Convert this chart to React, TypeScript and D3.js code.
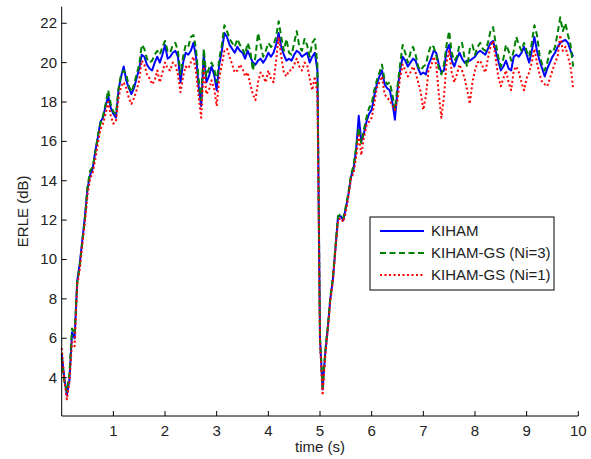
import React from "react";
import * as d3 from "d3";

const W = 591;
const H = 459;

const T_STEP = 0.05;
const xTicks = [1, 2, 3, 4, 5, 6, 7, 8, 9, 10];
const yTicks = [4, 6, 8, 10, 12, 14, 16, 18, 20, 22];
const seriesNames = ["KIHAM", "KIHAM-GS (Ni=3)", "KIHAM-GS (Ni=1)"];

const kiham = [
  5.2, 4.0, 3.1, 3.9, 6.3, 6.0, 8.9, 9.8, 11.0, 12.2,
  13.6, 14.3, 14.6, 15.5, 16.2, 17.0, 17.2, 17.8, 18.3, 17.7,
  17.4, 17.2, 18.6, 19.3, 19.8, 19.1, 18.7, 18.4, 18.7, 19.2,
  19.7, 20.4, 20.3, 19.9, 19.7, 19.6, 20.0, 20.3, 20.0, 20.4,
  20.9, 20.2, 20.3, 20.5, 20.6, 20.3, 19.0, 20.0, 20.5, 20.4,
  20.6, 21.0, 20.3, 18.8, 17.8, 20.4, 19.0, 19.3, 19.8, 19.4,
  18.6, 19.9, 20.6, 21.5, 21.3, 20.9, 20.7, 20.5, 20.8, 20.6,
  20.5, 20.2, 20.6, 20.3, 20.0, 19.9, 20.1, 20.2, 20.0, 20.2,
  20.5, 20.3, 20.5, 20.9, 21.5, 20.8, 20.4, 20.1, 20.2, 20.1,
  20.4, 20.6, 20.5, 20.3, 20.4, 20.5, 20.0, 20.3, 20.5, 19.6,
  6.0, 3.4, 5.2, 6.5, 8.0, 9.0, 10.6, 12.2, 12.2, 12.0,
  12.6, 13.3, 14.2, 14.6, 15.6, 17.3, 16.0, 16.4, 17.0, 17.4,
  17.6, 18.3, 18.9, 19.3, 19.6, 18.9, 18.7, 18.6, 18.0, 17.1,
  18.6, 19.6, 20.3, 20.1, 19.8, 20.0, 20.2, 20.1, 19.7, 19.4,
  19.5, 19.4, 19.9, 20.2, 20.6, 20.5, 19.9, 19.5, 19.6, 20.6,
  20.9, 20.1, 19.8, 20.2, 20.5, 20.2, 20.0, 20.1, 20.1, 20.2,
  20.3, 20.5, 20.6, 20.5, 20.4, 20.7, 21.0, 21.1, 20.6, 20.1,
  19.6, 19.8, 20.1, 19.7, 19.6, 20.3, 20.4, 20.3, 20.5, 20.8,
  20.4, 20.0, 20.6, 21.3, 20.6, 20.1, 19.7, 19.3, 19.7, 20.0,
  20.3, 20.5, 20.8, 21.0, 21.1, 21.15, 21.0, 20.6, 20.3,
];

const kihamGs3 = [
  5.0, 3.8, 3.3, 4.2, 6.5, 6.2, 8.8, 9.7, 10.9, 12.1,
  13.7, 14.5, 14.7, 15.4, 16.3, 16.9, 17.3, 17.9, 18.6, 17.9,
  17.5, 17.4, 18.7, 19.4, 19.6, 19.4, 18.8, 18.5, 18.9, 19.4,
  19.9, 20.9, 20.7, 20.2, 20.0, 20.1, 20.4, 20.6, 20.4, 20.8,
  21.1, 20.6, 20.5, 20.9, 21.0, 20.6, 19.4, 20.3, 20.9, 20.8,
  21.3, 21.4, 20.7, 19.2, 18.1, 20.7, 19.3, 19.7, 20.0, 19.7,
  19.0, 20.2, 20.9, 21.9, 21.6, 21.2, 21.0, 20.8, 21.2, 20.9,
  20.7, 20.4, 21.0, 20.6, 19.6, 20.3, 21.5, 20.9, 20.3, 20.6,
  21.0, 20.8, 20.9, 21.3, 22.1, 21.3, 20.6, 21.2, 20.5, 20.4,
  21.0, 21.6, 20.8, 20.6, 21.2, 20.9, 20.3, 21.0, 21.2, 19.9,
  6.0, 3.5, 5.3, 6.6, 8.1, 9.1, 10.7, 12.2, 12.3, 12.1,
  12.7, 13.4, 14.3, 14.8, 15.7, 16.7, 15.9, 16.6, 17.2, 17.7,
  17.9, 18.6, 19.1, 19.5, 19.9, 19.1, 18.9, 19.0, 18.4, 17.6,
  18.8, 19.9, 20.9, 20.5, 20.0, 20.5, 20.8, 20.4, 19.8, 19.6,
  19.8, 19.9, 20.5, 20.9, 20.8, 20.4, 19.7, 19.4, 19.9, 20.9,
  21.6, 20.5, 20.1, 20.3, 20.9, 21.0, 20.2, 19.8, 20.7, 20.9,
  20.4, 20.8, 21.0, 20.7, 20.6, 21.0, 21.6, 21.8, 21.0, 20.3,
  19.8, 20.2, 20.9, 20.6, 20.1, 20.6, 21.3, 20.9, 20.6, 21.0,
  20.6, 20.3, 21.0, 21.9, 21.4, 20.4, 19.9, 19.6, 20.0, 20.6,
  20.5, 20.8, 21.5, 22.3, 21.6, 22.0, 21.4, 20.9, 19.8,
];

const kihamGs1 = [
  5.5, 3.9, 2.9, 3.8, 5.8, 5.6, 8.7, 9.5, 10.8, 11.9,
  13.3, 14.1, 14.4, 15.1, 15.9, 16.6, 16.9, 17.4, 18.0, 17.3,
  16.9, 17.0, 18.2, 18.8, 19.0, 18.7, 18.2, 17.9, 18.2, 18.6,
  19.1, 20.1, 19.9, 19.4, 19.2, 18.9, 19.1, 19.6, 19.0, 19.5,
  20.0, 19.7, 19.6, 20.0, 19.9, 19.4, 18.5, 19.3, 19.8, 19.7,
  20.0, 20.3, 19.5, 18.3, 17.2, 19.8, 18.4, 18.6, 19.1, 18.7,
  17.8, 19.2, 19.9, 20.6, 20.7, 20.3, 19.9, 19.5, 19.6, 19.9,
  19.7, 19.3, 19.5, 18.9, 18.4, 18.1, 19.0, 19.5, 19.3, 19.0,
  19.6, 19.2, 19.0, 20.1, 21.3, 20.3, 19.5, 19.3, 19.6, 19.6,
  19.9, 20.2, 19.8, 19.6, 20.0, 19.9, 19.2, 18.6, 19.3, 18.4,
  5.8, 3.1, 5.0, 6.4, 7.9, 8.9, 10.5, 12.0, 12.1, 11.9,
  12.4, 13.2, 14.1, 14.4, 15.2, 16.3, 15.3, 16.2, 16.8, 17.0,
  17.2, 17.9, 18.7, 19.0, 19.3, 18.4, 18.2, 18.1, 17.8, 17.6,
  18.1, 19.2, 19.9, 19.6, 19.3, 19.5, 19.8, 19.5, 19.0, 18.5,
  17.6, 18.3, 19.6, 19.8, 20.3, 19.9, 18.4, 17.2, 18.3, 20.0,
  20.6, 19.5, 19.0, 19.4, 19.9, 19.6, 19.2, 18.6, 17.9, 19.0,
  19.6, 20.0, 20.1, 19.8, 19.5, 20.2, 20.8, 21.1, 20.2, 19.3,
  18.8, 19.2, 19.6, 19.0, 18.6, 19.6, 19.8, 19.5, 19.0, 18.6,
  19.2, 19.5, 20.0, 20.7, 20.0, 19.4, 19.0, 18.9, 18.8, 19.2,
  19.6, 20.0, 20.3, 21.4, 20.6, 20.8, 20.3, 19.8, 18.7,
];

const colors = ["#0000ff", "#008000", "#ff0000"];
const dashes = [undefined, "6,3.5", "2,2.5"];

export default function App() {
  const x = d3.scaleLinear().domain([0, 10]).range([61.7, 578.3]);
  const y = d3.scaleLinear().domain([2.05, 22.84]).range([416, 6.7]);
  const line = d3
    .line<number>()
    .x((_, i) => x(i * T_STEP))
    .y((d) => y(d));
  const allSeries = [kiham, kihamGs3, kihamGs1];
  const font = "'Liberation Sans', Arial, sans-serif";
  const textColor = "#222";
  const x0 = x.range()[0];
  const y0 = y.range()[0];
  const yTop = y.range()[1];
  const xRight = x.range()[1];

  const legX = 370;
  const legY = 217;
  const legW = 184;
  const legH = 73;
  const rowYs = [231, 253, 275];

  return (
    <svg
      width={W}
      height={H}
      style={{ position: "absolute", left: 0, top: 0, background: "#fff" }}
      fontFamily={font}
    >
      <rect x={0} y={0} width={W} height={H} fill="#fff" />
      {allSeries.map((s, k) => (
        <path
          key={k}
          d={line(s) || ""}
          fill="none"
          stroke={colors[k]}
          strokeWidth={2}
          strokeDasharray={dashes[k]}
          strokeLinejoin="round"
        />
      ))}
      {/* axes */}
      <line x1={x0} x2={x0} y1={yTop} y2={y0} stroke="#000" strokeWidth={1} />
      <line x1={x0} x2={xRight} y1={y0} y2={y0} stroke="#000" strokeWidth={1} />
      {xTicks.map((t) => (
        <g key={"x" + t}>
          <line x1={x(t)} x2={x(t)} y1={y0} y2={y0 - 5} stroke="#000" />
          <text
            x={x(t)}
            y={436}
            textAnchor="middle"
            fontSize={15}
            fill={textColor}
          >
            {t}
          </text>
        </g>
      ))}
      {yTicks.map((t) => (
        <g key={"y" + t}>
          <line x1={x0} x2={x0 + 5} y1={y(t)} y2={y(t)} stroke="#000" />
          <text
            x={57}
            y={y(t) + 5}
            textAnchor="end"
            fontSize={15}
            fill={textColor}
          >
            {t}
          </text>
        </g>
      ))}
      <text x={(x0 + xRight) / 2} y={452} textAnchor="middle" fontSize={15} fill={textColor}>
        time (s)
      </text>
      <text
        transform={`translate(28,${(y0 + yTop) / 2}) rotate(-90)`}
        textAnchor="middle"
        fontSize={15}
        fill={textColor}
      >
        ERLE (dB)
      </text>
      {/* legend */}
      <rect x={legX} y={legY} width={legW} height={legH} fill="#fff" stroke="#000" strokeWidth={1} />
      {seriesNames.map((n, k) => (
        <g key={n}>
          <line
            x1={380}
            x2={424}
            y1={rowYs[k]}
            y2={rowYs[k]}
            stroke={colors[k]}
            strokeWidth={2}
            strokeDasharray={dashes[k]}
          />
          <text x={431} y={rowYs[k] + 5} fontSize={15} fill={textColor}>
            {n}
          </text>
        </g>
      ))}
    </svg>
  );
}
